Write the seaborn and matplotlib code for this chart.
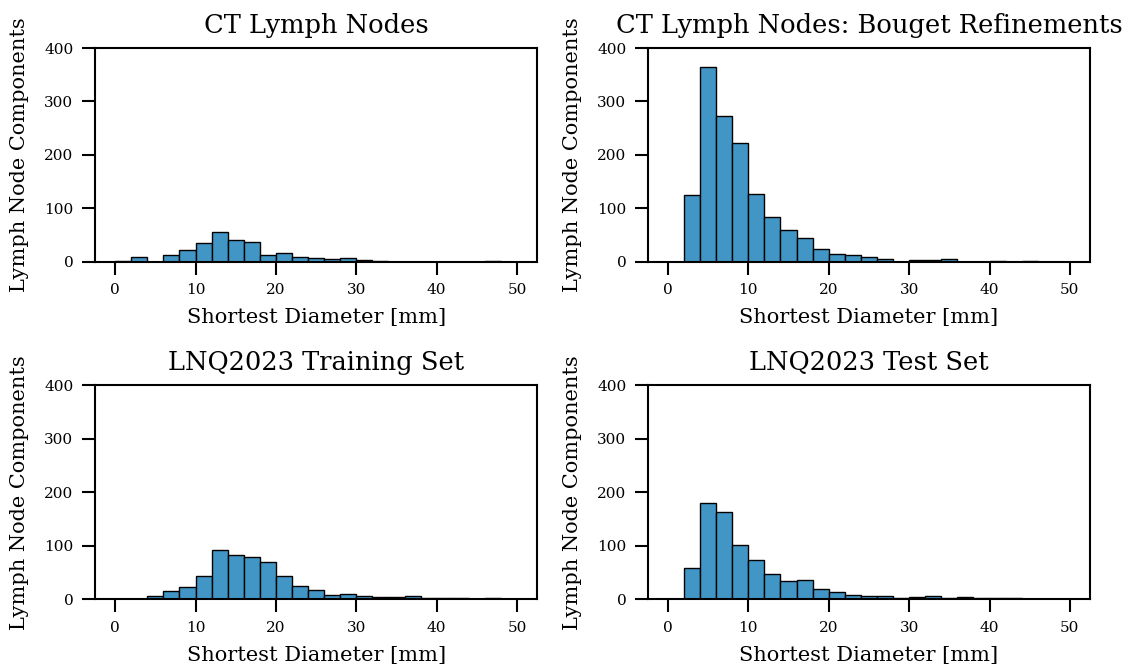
import matplotlib
matplotlib.use("Agg")
import matplotlib.pyplot as plt
import seaborn as sns
import numpy as np
import pandas as pd

# bins of 2 mm from 0 to 50
bin_edges = np.arange(0, 52, 2)
bin_centers = bin_edges[:-1] + 1

ct_counts = [1, 8, 0, 13, 22, 34, 55, 40, 36, 13, 17, 9, 6, 4, 7, 3, 1, 0, 0, 0, 0, 0, 0, 1, 0]
bouget_counts = [0, 124, 365, 273, 222, 127, 84, 60, 44, 23, 15, 13, 9, 5, 0, 3, 3, 4, 0, 0, 2, 0, 1, 0, 0]
train_counts = [0, 0, 5, 15, 22, 43, 92, 82, 78, 70, 44, 25, 16, 7, 9, 5, 4, 3, 5, 1, 2, 2, 0, 2, 0]
test_counts = [0, 59, 179, 163, 101, 74, 47, 34, 36, 19, 14, 8, 5, 5, 2, 4, 6, 2, 3, 2, 1, 1, 0, 0, 0]

titles = ["CT Lymph Nodes", "CT Lymph Nodes: Bouget Refinements",
          "LNQ2023 Training Set", "LNQ2023 Test Set"]
all_counts = [ct_counts, bouget_counts, train_counts, test_counts]

sns.set_style("ticks")
plt.rcParams['font.family'] = ['DejaVu Serif']
for key in ["text.color", "axes.labelcolor", "xtick.color", "ytick.color", "axes.edgecolor"]:
    plt.rcParams[key] = "black"

fig, axes = plt.subplots(2, 2, figsize=(11.27, 6.67), dpi=100)
plt.subplots_adjust(left=0.0843, right=0.9672, top=0.928, bottom=0.1019,
                    wspace=0.25, hspace=0.58)

for ax, counts, title in zip(axes.flat, all_counts, titles):
    df = pd.DataFrame({"diameter": bin_centers, "count": counts})
    sns.histplot(data=df, x="diameter", weights="count", binwidth=2,
                 binrange=(0, 50), ax=ax,
                 color="#4296c6", alpha=1, edgecolor="black", linewidth=1)
    ax.set_ylim(0, 400)
    ax.set_yticks([0, 100, 200, 300, 400])
    ax.set_xticks([0, 10, 20, 30, 40, 50])
    ax.set_title(title, fontsize=18.5, pad=11)
    ax.set_xlabel("Shortest Diameter [mm]", fontsize=15, labelpad=8)
    ax.set_ylabel("Lymph Node Components", fontsize=15, labelpad=11)
    ax.tick_params(labelsize=11, length=9.5, width=1.5, pad=6)
    for sp in ax.spines.values():
        sp.set_visible(True)
        sp.set_linewidth(1.5)

plt.savefig("out.png", dpi=100)
